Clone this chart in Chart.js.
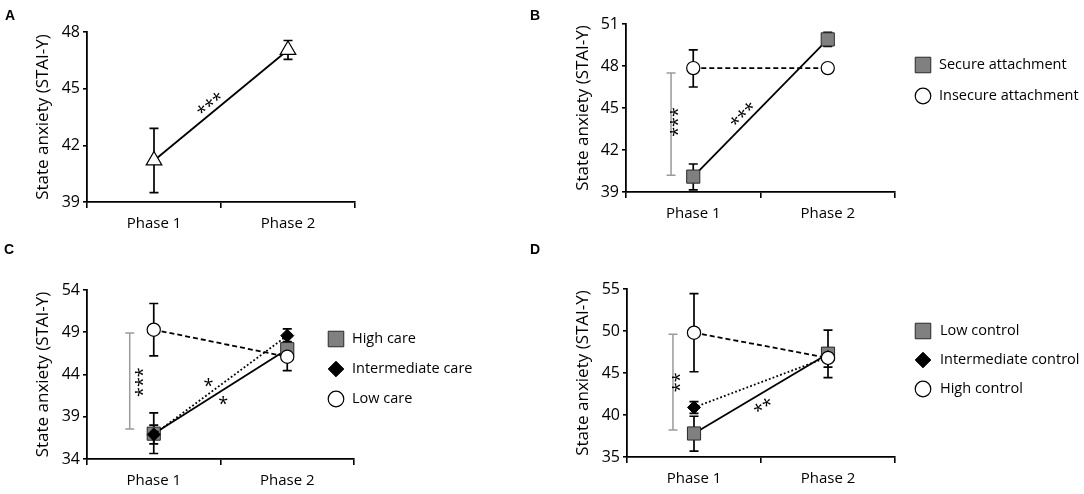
<!DOCTYPE html>
<html>
<head>
<meta charset="utf-8">
<script src="https://cdn.jsdelivr.net/npm/chart.js@4.4.0/dist/chart.umd.min.js"></script>
<style>
body { margin: 0; background: #fff; }
#wrap { position: relative; width: 1084px; height: 494px; overflow: hidden; }
canvas { position: absolute; }
.lbl { position: absolute; font: bold 14px 'Liberation Sans', Arial, sans-serif; line-height: 14px; color: #000; }
</style>
</head>
<body>
<div id="wrap">
  <canvas id="cA" width="540" height="250" style="left:0;top:0"></canvas>
  <canvas id="cB" width="544" height="250" style="left:540px;top:0"></canvas>
  <canvas id="cC" width="540" height="244" style="left:0;top:250px"></canvas>
  <canvas id="cD" width="544" height="244" style="left:540px;top:250px"></canvas>
  <div class="lbl" style="left:5px;top:8px">A</div>
  <div class="lbl" style="left:530px;top:8px">B</div>
  <div class="lbl" style="left:4px;top:242px">C</div>
  <div class="lbl" style="left:530px;top:242px">D</div>
</div>
<script>
const phases = ['Phase 1', 'Phase 2'];

// A - whole sample
const allMean = [41.2, 47.05];
const allLow = [39.5, 46.55];
const allHigh = [42.9, 47.55];

// B - attachment
const secureMean = [40.1, 49.9];
const secureLow = [39.15, 49.4];
const secureHigh = [41.0, 50.4];
const insecureMean = [47.85, 47.85];
const insecureLow = [46.5, 47.6];
const insecureHigh = [49.15, 48.1];

// C - care
const highCareMean = [37.0, 47.0];
const highCareLow = [34.65, 46.1];
const highCareHigh = [39.45, 47.9];
const interCareMean = [36.9, 48.6];
const interCareLow = [35.8, 47.8];
const interCareHigh = [38.0, 49.4];
const lowCareMean = [49.3, 46.1];
const lowCareLow = [46.2, 44.45];
const lowCareHigh = [52.4, 47.75];

// D - control
const lowCtrlMean = [37.8, 47.3];
const lowCtrlLow = [35.7, 44.45];
const lowCtrlHigh = [39.85, 50.1];
const interCtrlMean = [40.9, 46.9];
const interCtrlLow = [40.2, 46.3];
const interCtrlHigh = [41.6, 47.5];
const highCtrlMean = [49.8, 46.8];
const highCtrlLow = [45.15, 45.7];
const highCtrlHigh = [54.45, 47.9];

const FONT = "'Open Sans', sans-serif";

// estilos de serie
function square(label, data, lo, hi, order) {
    return { label, data, errLow: lo, errHigh: hi, order,
        borderColor: '#000', borderWidth: 1.8, pointStyle: 'rect', pointRadius: 9.3,
        pointBackgroundColor: '#808080', pointBorderColor: '#2a2a2a', pointBorderWidth: 1, legendRadius: 11 };
}
function circle(label, data, lo, hi, order) {
    return { label, data, errLow: lo, errHigh: hi, order,
        borderColor: '#000', borderWidth: 1.8, borderDash: [5, 3], pointStyle: 'circle', pointRadius: 6.6,
        pointBackgroundColor: '#fff', pointBorderColor: '#000', pointBorderWidth: 1.2, legendRadius: 7.8 };
}
function diamond(label, data, lo, hi, order) {
    return { label, data, errLow: lo, errHigh: hi, order,
        borderColor: '#000', borderWidth: 1.8, borderDash: [1.8, 2.2], pointStyle: 'rectRot', pointRadius: 6.5,
        pointBackgroundColor: '#000', pointBorderColor: '#000', pointBorderWidth: 1, legendRadius: 7.8 };
}

// barras de error, llaves y asteriscos
const marks = {
    id: 'marks',
    beforeDatasetsDraw(chart, args, opts) {
        const ctx = chart.ctx, ys = chart.scales.y, xs = chart.scales.x;
        ctx.save();
        ctx.strokeStyle = '#000';
        ctx.lineWidth = 1.7;
        chart.data.datasets.forEach((ds, i) => {
            const pts = chart.getDatasetMeta(i).data;
            ds.errLow.forEach((lo, j) => {
                const px = pts[j].x;
                const y1 = ys.getPixelForValue(lo), y2 = ys.getPixelForValue(ds.errHigh[j]);
                ctx.beginPath();
                ctx.moveTo(px, y1); ctx.lineTo(px, y2);
                ctx.moveTo(px - 4.5, y1); ctx.lineTo(px + 4.5, y1);
                ctx.moveTo(px - 4.5, y2); ctx.lineTo(px + 4.5, y2);
                ctx.stroke();
            });
        });
        ctx.strokeStyle = '#9a9a9a';
        ctx.lineWidth = 1.5;
        (opts.brackets || []).forEach(b => {
            const px = xs.getPixelForValue(b.x);
            const y1 = ys.getPixelForValue(b.from), y2 = ys.getPixelForValue(b.to);
            ctx.beginPath();
            ctx.moveTo(px, y1); ctx.lineTo(px, y2);
            ctx.moveTo(px - 4.5, y1); ctx.lineTo(px + 4.5, y1);
            ctx.moveTo(px - 4.5, y2); ctx.lineTo(px + 4.5, y2);
            ctx.stroke();
        });
        ctx.restore();
    },
    afterDatasetsDraw(chart, args, opts) {
        const ctx = chart.ctx, ys = chart.scales.y, xs = chart.scales.x;
        (opts.stars || []).forEach(s => {
            const px = xs.getPixelForValue(s.x), py = ys.getPixelForValue(s.y);
            let ang = 0;
            if (s.vertical) {
                ang = -Math.PI / 2;
            } else if (s.along !== undefined) {
                const d = chart.getDatasetMeta(s.along).data;
                ang = Math.atan2(d[1].y - d[0].y, d[1].x - d[0].x);
            }
            ctx.save();
            ctx.translate(px, py);
            ctx.rotate(ang);
            ctx.font = '18px ' + FONT;
            ctx.fillStyle = '#000';
            ctx.textAlign = 'center';
            ctx.textBaseline = 'alphabetic';
            const m = ctx.measureText(s.text);
            ctx.fillText(s.text, 0, (m.actualBoundingBoxAscent - m.actualBoundingBoxDescent) / 2);
            ctx.restore();
        });
    }
};

// leyenda a la derecha
const sideLegend = {
    id: 'sideLegend',
    afterDraw(chart, args, opts) {
        if (!opts.show) return;
        const ctx = chart.ctx;
        ctx.save();
        chart.data.datasets.forEach((ds, i) => {
            const y = opts.y + i * opts.gap;
            ctx.fillStyle = ds.pointBackgroundColor;
            ctx.strokeStyle = ds.pointBorderColor;
            ctx.lineWidth = ds.pointBorderWidth;
            Chart.helpers.drawPoint(ctx, { pointStyle: ds.pointStyle, radius: ds.legendRadius, borderWidth: ds.pointBorderWidth, rotation: 0 }, opts.x, y);
            ctx.fillStyle = '#000';
            ctx.font = '14.5px ' + FONT;
            ctx.textAlign = 'left';
            ctx.textBaseline = 'middle';
            ctx.fillText(ds.label, opts.textX, y);
        });
        ctx.restore();
    }
};

function makeChart(id, datasets, p) {
    return new Chart(document.getElementById(id), {
        type: 'line',
        data: { labels: phases, datasets },
        plugins: [marks, sideLegend],
        options: {
            responsive: false,
            animation: false,
            devicePixelRatio: 1,
            layout: { padding: { left: 30, top: p.top, right: p.right, bottom: 0 } },
            plugins: {
                legend: { display: false },
                tooltip: { enabled: false },
                marks: p.marks,
                sideLegend: p.legend || { show: false }
            },
            scales: {
                x: {
                    type: 'category',
                    offset: true,
                    grid: { offset: true, drawOnChartArea: false, tickLength: 6, color: '#000', lineWidth: 1.6 },
                    border: { color: '#000', width: 1.8 },
                    ticks: { color: '#000', font: { family: FONT, size: 15 }, padding: 7 },
                    afterFit: s => { s.height = p.xh; }
                },
                y: {
                    min: p.min, max: p.max,
                    ticks: { stepSize: p.step, color: '#000', font: { family: FONT, size: 16 }, padding: 3 },
                    grid: { drawOnChartArea: false, tickLength: 4, color: '#000', lineWidth: 1.6 },
                    border: { color: '#000', width: 1.8 },
                    title: { display: true, text: 'State anxiety (STAI-Y)', color: '#000', font: { family: FONT, size: 17 }, padding: { top: 3, bottom: 0 } },
                    afterFit: s => { s.width = p.yw; }
                }
            }
        }
    });
}

// A
makeChart('cA', [
    { label: 'All', data: allMean, errLow: allLow, errHigh: allHigh,
      borderColor: '#000', borderWidth: 1.8, pointStyle: 'triangle', pointRadius: 9,
      pointBackgroundColor: '#fff', pointBorderColor: '#000', pointBorderWidth: 1.2 }
], { top: 32, right: 185, xh: 48, yw: 57, min: 39, max: 48, step: 3,
     marks: { stars: [{ text: '***', x: 0.41, y: 44.25, along: 0 }] } });

// B
makeChart('cB', [
    square('Secure attachment', secureMean, secureLow, secureHigh, 2),
    circle('Insecure attachment', insecureMean, insecureLow, insecureHigh, 1)
], { top: 24, right: 189, xh: 58, yw: 56, min: 39, max: 51, step: 3,
     legend: { show: true, x: 383, y: 65, gap: 31, textX: 399 },
     marks: {
        brackets: [{ x: -0.165, from: 40.2, to: 47.5 }],
        stars: [{ text: '***', x: -0.14, y: 44.0, vertical: true },
                { text: '***', x: 0.36, y: 44.6, along: 0 }]
     } });

// C
makeChart('cC', [
    square('High care', highCareMean, highCareLow, highCareHigh, 3),
    diamond('Intermediate care', interCareMean, interCareLow, interCareHigh, 2),
    circle('Low care', lowCareMean, lowCareLow, lowCareHigh, 1)
], { top: 40, right: 186, xh: 35, yw: 57, min: 34, max: 54, step: 5,
     legend: { show: true, x: 336, y: 89, gap: 30, textX: 352 },
     marks: {
        brackets: [{ x: -0.18, from: 37.55, to: 48.9 }],
        stars: [{ text: '***', x: -0.11, y: 43.1, vertical: true },
                { text: '*', x: 0.41, y: 43.0 },
                { text: '*', x: 0.52, y: 40.9 }]
     } });

// D
makeChart('cD', [
    square('Low control', lowCtrlMean, lowCtrlLow, lowCtrlHigh, 3),
    diamond('Intermediate control', interCtrlMean, interCtrlLow, interCtrlHigh, 2),
    circle('High control', highCtrlMean, highCtrlLow, highCtrlHigh, 1)
], { top: 39, right: 189, xh: 37, yw: 57, min: 35, max: 55, step: 5,
     legend: { show: true, x: 383, y: 81, gap: 29, textX: 400 },
     marks: {
        brackets: [{ x: -0.157, from: 38.2, to: 49.6 }],
        stars: [{ text: '**', x: -0.13, y: 43.9, vertical: true },
                { text: '**', x: 0.51, y: 41.2, along: 0 }]
     } });
</script>
</body>
</html>
